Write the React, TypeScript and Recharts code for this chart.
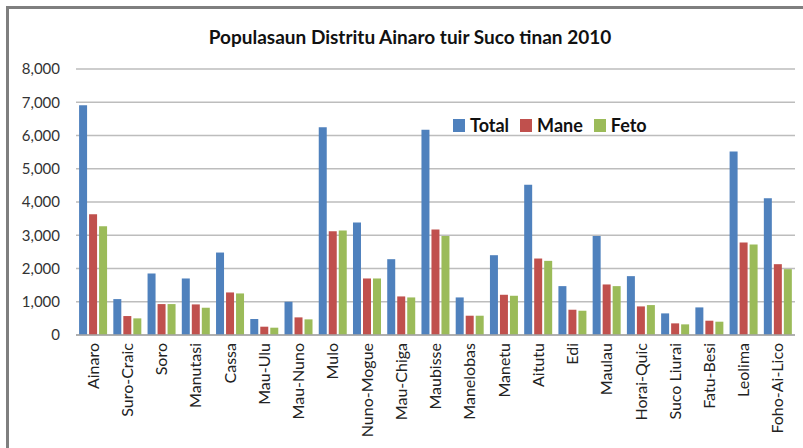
import { BarChart, Bar, XAxis, YAxis, CartesianGrid } from 'recharts';

const sucos = [
  'Ainaro', 'Suro-Craic', 'Soro', 'Manutasi', 'Cassa', 'Mau-Ulu', 'Mau-Nuno',
  'Mulo', 'Nuno-Mogue', 'Mau-Chiga', 'Maubisse', 'Manelobas', 'Manetu', 'Aitutu',
  'Edi', 'Maulau', 'Horai-Quic', 'Suco Liurai', 'Fatu-Besi', 'Leolima', 'Foho-Ai-Lico',
];
const total = [6910, 1080, 1850, 1700, 2480, 480, 1000, 6250, 3380, 2280, 6170, 1130, 2400, 4520, 1470, 2980, 1770, 650, 830, 5520, 4110];
const mane = [3630, 570, 930, 920, 1280, 250, 530, 3120, 1700, 1160, 3170, 580, 1210, 2300, 760, 1520, 860, 350, 430, 2780, 2130];
const feto = [3270, 500, 930, 820, 1250, 220, 470, 3140, 1700, 1130, 2980, 580, 1180, 2230, 730, 1470, 900, 320, 400, 2720, 1980];
const yTicks = [0, 1000, 2000, 3000, 4000, 5000, 6000, 7000, 8000];

const series = [
  { key: 'total', name: 'Total', color: '#4F81BD' },
  { key: 'mane', name: 'Mane', color: '#C0504D' },
  { key: 'feto', name: 'Feto', color: '#9BBB59' },
];

const data = sucos.map((suco, i) => ({ suco, total: total[i], mane: mane[i], feto: feto[i] }));

const FONT = 'Lato, "Liberation Sans", sans-serif';

const RotatedTick = ({ x, y, payload }: any) => (
  <g transform={`translate(${x},${y})`}>
    <text transform="rotate(-90)" textAnchor="end" dy="0.35em" fontSize={16} fill="#222" fontFamily={FONT}>
      {payload.value}
    </text>
  </g>
);

// legend kept outside the chart so it doesn't eat plot height
const ChartLegend = () => (
  <div
    style={{
      position: 'absolute', left: 453, top: 114, display: 'flex', alignItems: 'center',
      fontFamily: FONT, fontWeight: 700, fontSize: 18, color: '#111',
    }}
  >
    {series.map((s) => (
      <div key={s.key} style={{ display: 'flex', alignItems: 'center', marginRight: 11 }}>
        <span style={{ width: 12, height: 13, background: s.color, display: 'inline-block', marginRight: 5 }} />
        <span>{s.name}</span>
      </div>
    ))}
  </div>
);

export default function App() {
  return (
    <div style={{ position: 'fixed', left: 0, top: 0, width: 803, height: 448, overflow: 'hidden', background: '#fff' }}>
      <div
        style={{
          position: 'absolute', left: 6, top: 6, width: 900, height: 600,
          borderLeft: '3px solid #7f7f7f', borderTop: '3px solid #7f7f7f',
        }}
      />
      <div
        style={{
          position: 'absolute', left: 0, top: 25, width: 820, textAlign: 'center',
          fontFamily: FONT, fontWeight: 700, fontSize: 19, color: '#111',
        }}
      >
        Populasaun Distritu Ainaro tuir Suco tinan 2010
      </div>
      <div style={{ position: 'absolute', left: 0, top: 0 }}>
        <BarChart
          width={803}
          height={448}
          data={data}
          margin={{ top: 69, right: 8, left: 0, bottom: 0 }}
          barCategoryGap="9%"
          barGap={2}
        >
          <CartesianGrid vertical={false} stroke="#bdbdbd" strokeWidth={1.5} />
          <XAxis
            dataKey="suco"
            interval={0}
            height={113}
            tickLine={false}
            tickSize={0}
            tickMargin={8}
            axisLine={{ stroke: '#a6a6a6', strokeWidth: 1.5 }}
            tick={<RotatedTick />}
          />
          <YAxis
            width={76}
            domain={[0, 8000]}
            ticks={yTicks}
            axisLine={false}
            tickLine={false}
            tickSize={0}
            tickMargin={16}
            tickFormatter={(v: number) => v.toLocaleString('en-US')}
            tick={{ fontSize: 15, fill: '#333', fontFamily: FONT }}
          />
          {series.map((s) => (
            <Bar key={s.key} dataKey={s.key} name={s.name} fill={s.color} isAnimationActive={false} />
          ))}
        </BarChart>
      </div>
      <ChartLegend />
    </div>
  );
}
